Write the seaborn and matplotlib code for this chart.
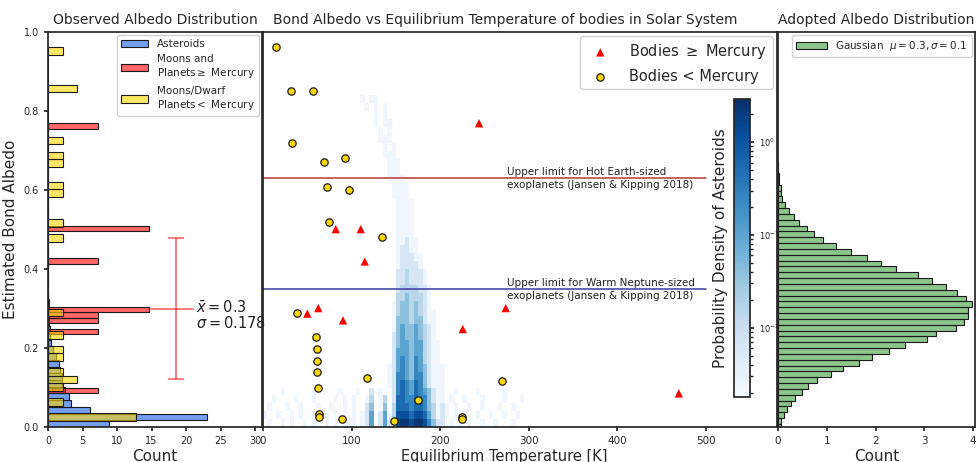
import numpy as np
import pandas as pd
import matplotlib
matplotlib.use("Agg")
import matplotlib.pyplot as plt
from matplotlib.colors import LogNorm
import seaborn as sns

sns.set_theme(style="ticks")
plt.rcParams["font.family"] = ["DejaVu Sans"]

# ---------------- data ----------------
# Bodies >= Mercury (red triangles)
big_T = [243.8, 82.1, 110.3, 114.8, 50.0, 62.4, 90.3, 225.4, 273.9, 469.2]
big_A = [0.769, 0.501, 0.501, 0.419, 0.287, 0.301, 0.270, 0.248, 0.301, 0.085]

# Bodies < Mercury (yellow circles)
small_T = [14.7, 31.6, 56.1, 32.4, 68.5, 92.2, 71.9, 97.1, 74.8, 134.3, 38.7, 59.5,
           60.6, 60.6, 61.3, 62.4, 117.7, 270.0, 175.3, 63.2, 63.2, 89.5, 148.2,
           224.3, 224.3]
small_A = [0.961, 0.851, 0.851, 0.720, 0.671, 0.681, 0.608, 0.600, 0.520, 0.480,
           0.289, 0.228, 0.197, 0.168, 0.138, 0.099, 0.125, 0.117, 0.068, 0.033,
           0.025, 0.020, 0.016, 0.026, 0.019]

# Asteroid albedo density (left panel, blue), bins of 0.017 from 0
ast_density = [8.85, 23.0, 6.1, 3.4, 3.0, 2.5, 2.1, 2.0, 1.8, 1.55, 1.1, 0.72,
               0.45, 0.35, 0.22, 0.15, 0.12, 0.10, 0.08, 0.06]
ast_binw = 0.017

# Adopted Gaussian albedo distribution (right panel), bins from -0.007, width 0.01477
gauss_density = [0.055, 0.07, 0.12, 0.18, 0.26, 0.34, 0.50, 0.62, 0.81, 1.08, 1.34,
                 1.66, 1.92, 2.27, 2.60, 3.05, 3.25, 3.65, 3.82, 3.89, 3.89, 3.97,
                 3.86, 3.67, 3.45, 3.15, 2.88, 2.42, 2.12, 1.82, 1.49, 1.18, 0.93,
                 0.73, 0.59, 0.43, 0.32, 0.23, 0.14, 0.09, 0.07, 0.055, 0.02, 0.02,
                 0.01, 0.01]
gauss_start, gauss_binw = -0.007, 0.01477

# Asteroid 2D density map: rows = albedo bins of 0.02 (top row first, 0.82-0.84),
# columns = temperature bins of 5 K from 0 K; digit = log-density level
dens_levels = {1: 0.0024, 2: 0.006, 3: 0.015, 4: 0.04, 5: 0.1, 6: 0.25, 7: 0.55,
               8: 1.2, 9: 2.5}
dens_rows = [
    "." * 22 + "1.11",
    "." * 23 + "1.1.1",
    "." * 25 + "1.1",
    "." * 25 + "1.11",
    "." * 26 + "1.1",
    "." * 26 + "111",
    "." * 27 + "1.1",
    "." * 27 + "111",
    "." * 28 + "111",
    "." * 28 + "111",
    "." * 28 + "1111",
    "." * 29 + "1111",
    "." * 29 + "1111",
    "." * 30 + "1111",
    "." * 30 + "1111",
    "." * 30 + "1111",
    "." * 30 + "1111",
    "." * 30 + "1111",
    "." * 30 + "11211",
    "." * 30 + "12211",
    "." * 30 + "122211",
    "." * 30 + "122221",
    "." * 30 + "2232221",
    "." * 30 + "2232221",
    "." * 30 + "23333221",
    "." * 30 + "33433321",
    "." * 29 + "134434321",
    "." * 29 + "1344343211",
    "." * 29 + "1444344211",
    "." * 29 + "1454454321",
    "." * 29 + "2454454321",
    "." * 29 + "24554553211",
    "." * 29 + "25554553211",
    "." * 29 + "25654653211",
    "." * 28 + "1256546542111",
    "." * 28 + "1266546642111",
    "." * 28 + "1267657642111",
    "....1......1.....1.." + ".1..2.1..2" + "6765765421" + "1..1....1.....1.....",
    "..1....1...1....1.1." + "1..13.13.2" + "7766766421" + "1.1..1...1....1...1.",
    ".1...1..1...1..1..1." + "1..24.14.3" + "7776776431" + "21.1..1..1...1..1...",
    "1..1..1.1..1..1.1.1." + "1.125.2513" + "8887887531" + "21.1.1..1..1..1..1..",
    ".1..1.1..1.1..1.1.11" + "1.125.2523" + "8998998642" + "2.1.1.1..1..1...1...",
]
dens_Tbin, dens_Abin, dens_ncol = 5.0, 0.02, 60

hot_earth_limit = 0.63
warm_neptune_limit = 0.349
obs_mean, obs_std = 0.3, 0.178

# ---------------- figure ----------------
W, H = 977, 462
fig = plt.figure(figsize=(W / 100, H / 100), dpi=100)


def px(x0, x1, y0, y1):
    return [x0 / W, 1 - y1 / H, (x1 - x0) / W, (y1 - y0) / H]


axl = fig.add_axes(px(48, 262, 32, 427))
axm = fig.add_axes(px(263, 777, 32, 427), sharey=axl)
axr = fig.add_axes(px(778, 975, 32, 427), sharey=axl)
cax = fig.add_axes(px(734, 750, 99, 397))
axm.patch.set_visible(False)

# ---- left panel: observed albedo distribution ----
ast_edges = [i * ast_binw for i in range(len(ast_density) + 1)]
ast_centers = [e + ast_binw / 2 for e in ast_edges[:-1]]
sns.histplot(y=ast_centers, weights=ast_density, bins=ast_edges, color="#6495ED",
             alpha=0.9, edgecolor="k", linewidth=0.8, ax=axl, label="Asteroids")
sns.histplot(y=big_A, bins=50, stat="density", color="red", alpha=0.6,
             edgecolor="k", linewidth=0.8, ax=axl,
             label="Moons and\nPlanets$\\geq$ Mercury")
sns.histplot(y=small_A, bins=50, stat="density", color="gold", alpha=0.6,
             edgecolor="k", linewidth=0.8, ax=axl,
             label="Moons/Dwarf\nPlanets$<$ Mercury")
axl.errorbar([18.5], [obs_mean], yerr=[obs_std], color="red", alpha=0.6,
             capsize=6, lw=1.2, capthick=1.2)
axl.plot([14.9, 21.0], [obs_mean, obs_mean], color="red", alpha=0.6, lw=1.2)
axl.text(21.4, 0.283, "$\\bar{x} = 0.3$\n$\\sigma = 0.178$", fontsize=10.5,
         va="center", ha="left", linespacing=0.95, color="#222222", zorder=10)
axl.set_xlim(0, 31)
axl.set_ylim(0, 1)
axl.set_xticks(range(0, 31, 5))
axl.set_yticks(np.arange(0, 1.01, 0.2))
axl.tick_params(labelsize=7, length=3)
axl.set_xlabel("Count", fontsize=11, labelpad=2)
axl.set_ylabel("Estimated Bond Albedo", fontsize=11)
axl.set_title("Observed Albedo Distribution", fontsize=10)
axl.legend(loc="upper right", fontsize=7.5, handlelength=2.6, framealpha=0.9,
           borderaxespad=0.3)

# ---- middle panel ----
dens_grid = np.array([[dens_levels.get(int(ch), np.nan) if ch != "." else np.nan
                       for ch in row.ljust(dens_ncol, ".")] for row in dens_rows[::-1]])
dens_grid = np.ma.masked_invalid(dens_grid)
T_edges = np.arange(dens_ncol + 1) * dens_Tbin
A_edges = np.arange(len(dens_rows) + 1) * dens_Abin
mesh = axm.pcolormesh(T_edges, A_edges, dens_grid, cmap="Blues",
                      norm=LogNorm(vmin=0.0018, vmax=2.9), rasterized=True)

axm.plot([0, 500], [hot_earth_limit] * 2, color="#B83838", lw=1.1)
axm.plot([0, 500], [warm_neptune_limit] * 2, color="#3A3A9C", lw=1.1)
axm.text(275, hot_earth_limit, "Upper limit for Hot Earth-sized\nexoplanets (Jansen & Kipping 2018)",
         fontsize=7.5, va="center", ha="left", linespacing=1.35, color="#222222")
axm.text(275, warm_neptune_limit, "Upper limit for Warm Neptune-sized\nexoplanets (Jansen & Kipping 2018)",
         fontsize=7.5, va="center", ha="left", linespacing=1.35, color="#222222")

sns.scatterplot(x=big_T, y=big_A, marker="^", color="red", s=36, edgecolor="none",
                ax=axm, label="Bodies $\\geq$ Mercury", zorder=4)
sns.scatterplot(x=small_T, y=small_A, marker="o", color="gold", s=28, edgecolor="k",
                linewidth=0.9, ax=axm, label="Bodies < Mercury", zorder=4)
axm.set_xlim(0, 580)
axm.set_xticks(range(0, 501, 100))
axm.tick_params(axis="x", labelsize=7.5, length=3)
axm.tick_params(axis="y", left=False, labelleft=False)
axm.set_xlabel("Equilibrium Temperature [K]", fontsize=10.5, labelpad=2, x=0.47)
axm.set_ylabel("")
axm.set_title("Bond Albedo vs Equilibrium Temperature of bodies in Solar System",
              fontsize=10, x=0.471)
axm.legend(loc="upper right", fontsize=10.5, framealpha=0.9, borderaxespad=0.3,
           handletextpad=1.0)

cb = fig.colorbar(mesh, cax=cax)
cb.set_label("Probability Density of Asteroids", fontsize=11)
cax.yaxis.set_label_position("left")
cax.tick_params(labelsize=6, length=3)
cax.tick_params(which="minor", length=2)

# ---- right panel ----
g_edges = [gauss_start + i * gauss_binw for i in range(len(gauss_density) + 1)]
g_centers = [e + gauss_binw / 2 for e in g_edges[:-1]]
sns.histplot(y=g_centers, weights=gauss_density, bins=g_edges, color="green",
             alpha=0.45, edgecolor="k", linewidth=0.8, ax=axr,
             label="Gaussian  $\\mu = 0.3, \\sigma = 0.1$")
axr.set_xlim(0, 4.04)
axr.set_xticks(range(0, 5))
axr.tick_params(axis="x", labelsize=7.5, length=3)
axr.tick_params(axis="y", left=False, labelleft=False)
axr.set_xlabel("Count", fontsize=11, labelpad=2)
axr.set_ylabel("")
axr.set_title("Adopted Albedo Distribution", fontsize=10)
axr.legend(loc="upper right", fontsize=7.5, handlelength=3, framealpha=0.9,
           borderaxespad=0.3)
axl.set_ylim(0, 1)

fig.savefig("out.png", dpi=100)
